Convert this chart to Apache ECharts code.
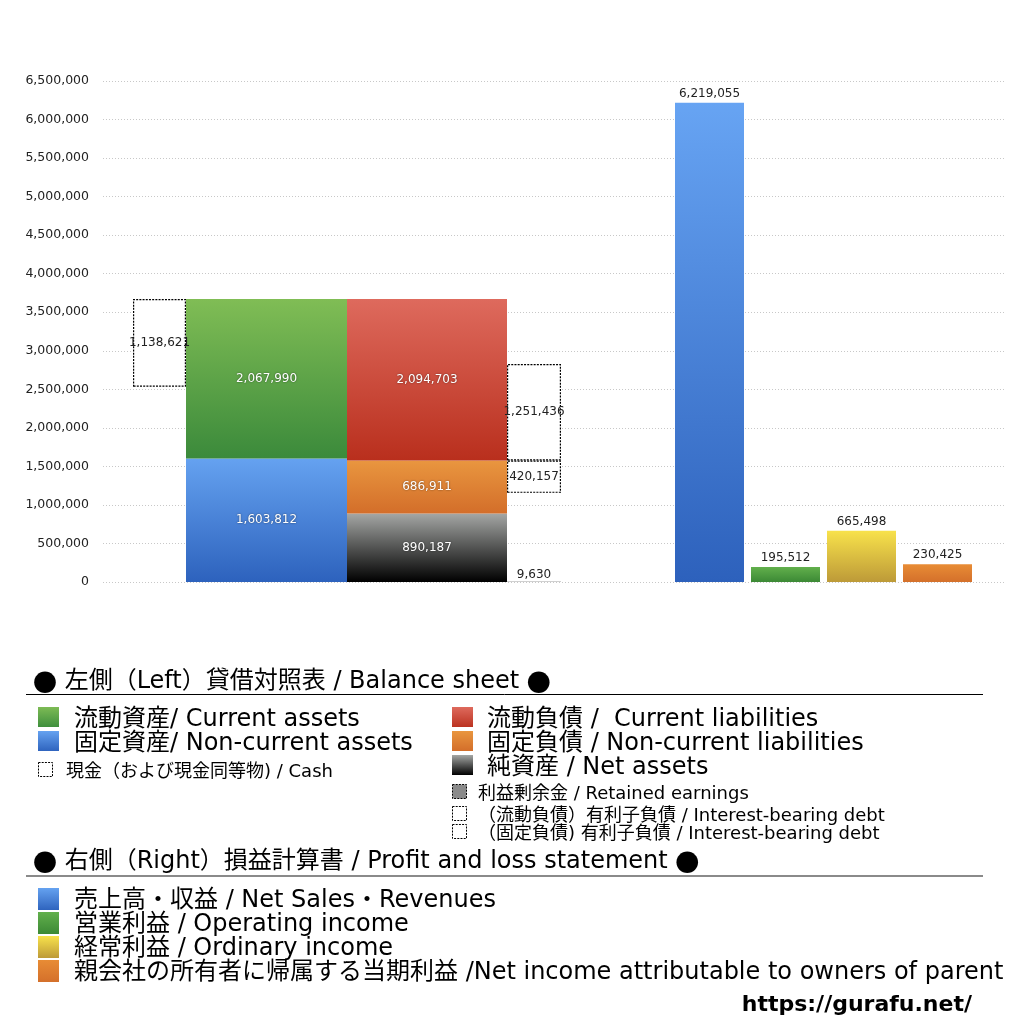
<!DOCTYPE html>
<html>
<head>
<meta charset="utf-8">
<script src="https://cdn.jsdelivr.net/npm/echarts@6/dist/echarts.min.js"></script>
<style>
html,body{margin:0;padding:0;background:#fff;}
#chart{width:1024px;height:1024px;}
</style>
</head>
<body>
<div id="chart"></div>
<script>
// ---- Data ----
const bsCategory = ['貸借対照表'];
const cash = [1138621];
const currentAssets = [2067990];
const nonCurrentAssets = [1603812];
const currentLiabilities = [2094703];
const nonCurrentLiabilities = [686911];
const netAssets = [890187];
const retainedEarnings = [9630];
const currentDebt = [1251436];
const nonCurrentDebt = [420157];

const plCategories = ['売上高・収益', '営業利益', '経常利益', '親会社の所有者に帰属する当期利益'];
const plValues = [6219055, 195512, 665498, 230425];

const yMin = 0, yMax = 6500000, yInterval = 500000;

// derived invisible offsets (from the values above)
const cashOffset = [currentAssets[0] + nonCurrentAssets[0] - cash[0]];
const debtOffset = [netAssets[0] + nonCurrentLiabilities[0] - nonCurrentDebt[0] - retainedEarnings[0]];

// ---- Styles ----
const grad = (a, b) => ({type:'linear', x:0, y:0, x2:0, y2:1, colorStops:[{offset:0,color:a},{offset:1,color:b}]});
const C = {
  green: grad('#80bd55', '#3b8a3b'),
  blue: grad('#65a2f0', '#2d62bd'),
  red: grad('#de6a5d', '#b92f1d'),
  orange: grad('#e9963f', '#d36e2a'),
  black: grad('#a5a7a5', '#000000'),
  gray: grad('#c8c8c8', '#b0b0b0'),
  plBlue: grad('#67a4f3', '#2d61bc'),
  plGreen: grad('#62b04c', '#3c8935'),
  plYellow: grad('#f8e24b', '#bd9a38'),
  plOrange: grad('#e88c35', '#d4702b')
};
const numFmt = v => Number(v).toLocaleString('en-US');
const labelFont = 'DejaVu Sans';
const whiteLabel = {show:true, position:'inside', color:'#fff', fontFamily:labelFont, fontSize:12,
  textShadowColor:'rgba(0,0,0,0.55)', textShadowBlur:2, formatter:p=>numFmt(p.value)};
const darkLabel = {show:true, position:'inside', color:'#222', fontFamily:labelFont, fontSize:12, formatter:p=>numFmt(p.value)};
const dashedBox = {color:'#fff', borderColor:'#000', borderWidth:1.2, borderType:[2,1.2]};

const gTop = 81, gBottom = 1024 - 582;

const option = {
  animation:false,
  backgroundColor:'#fff',
  grid:[
    {left:103, right:19, top:gTop, bottom:gBottom},
    {left:103, width:488, top:gTop, bottom:gBottom},
    {left:671.5, width:304, top:gTop, bottom:gBottom}
  ],
  xAxis:[
    {gridIndex:0, type:'category', data:[''], show:false},
    {gridIndex:1, type:'category', data:bsCategory, show:false},
    {gridIndex:2, type:'category', data:plCategories, show:false}
  ],
  yAxis:[
    {gridIndex:0, type:'value', min:yMin, max:yMax, interval:yInterval,
     axisLine:{show:false}, axisTick:{show:false},
     axisLabel:{color:'#222', fontFamily:labelFont, fontSize:12.5, margin:14, formatter:v=>numFmt(v)},
     splitLine:{show:true, lineStyle:{color:'#c8c8c8', type:[1,2], width:1}}},
    {gridIndex:1, type:'value', min:yMin, max:yMax, show:false, splitLine:{show:false}},
    {gridIndex:2, type:'value', min:yMin, max:yMax, show:false, splitLine:{show:false}}
  ],
  series:[
    // cash column
    {type:'bar', xAxisIndex:1, yAxisIndex:1, stack:'cash', barWidth:53, barGap:'0%', data:cashOffset,
     itemStyle:{color:'transparent'}, silent:true},
    {type:'bar', xAxisIndex:1, yAxisIndex:1, stack:'cash', barWidth:53, barGap:'0%', data:cash,
     itemStyle:dashedBox, label:darkLabel},
    // assets column
    {type:'bar', xAxisIndex:1, yAxisIndex:1, stack:'assets', barWidth:161, barGap:'0%', data:nonCurrentAssets,
     itemStyle:{color:C.blue}, label:whiteLabel},
    {type:'bar', xAxisIndex:1, yAxisIndex:1, stack:'assets', barWidth:161, barGap:'0%', data:currentAssets,
     itemStyle:{color:C.green}, label:whiteLabel},
    // liabilities + net assets column
    {type:'bar', xAxisIndex:1, yAxisIndex:1, stack:'liab', barWidth:160, barGap:'0%', data:netAssets,
     itemStyle:{color:C.black}, label:whiteLabel},
    {type:'bar', xAxisIndex:1, yAxisIndex:1, stack:'liab', barWidth:160, barGap:'0%', data:nonCurrentLiabilities,
     itemStyle:{color:C.orange}, label:whiteLabel},
    {type:'bar', xAxisIndex:1, yAxisIndex:1, stack:'liab', barWidth:160, barGap:'0%', data:currentLiabilities,
     itemStyle:{color:C.red}, label:whiteLabel},
    // retained earnings + interest-bearing debt column
    {type:'bar', xAxisIndex:1, yAxisIndex:1, stack:'debt', barWidth:54, barGap:'0%', data:retainedEarnings,
     itemStyle:{color:C.gray}, label:{show:true, position:'top', distance:0, color:'#222', fontFamily:labelFont, fontSize:12, formatter:p=>numFmt(p.value)}},
    {type:'bar', xAxisIndex:1, yAxisIndex:1, stack:'debt', barWidth:54, barGap:'0%', data:debtOffset,
     itemStyle:{color:'transparent'}, silent:true},
    {type:'bar', xAxisIndex:1, yAxisIndex:1, stack:'debt', barWidth:54, barGap:'0%', data:nonCurrentDebt,
     itemStyle:dashedBox, label:darkLabel},
    {type:'bar', xAxisIndex:1, yAxisIndex:1, stack:'debt', barWidth:54, barGap:'0%', data:currentDebt,
     itemStyle:dashedBox, label:darkLabel},
    // P&L
    {type:'bar', xAxisIndex:2, yAxisIndex:2, barWidth:69,
     data:plValues.map((v,i)=>({value:v, itemStyle:{color:[C.plBlue,C.plGreen,C.plYellow,C.plOrange][i]}})),
     label:{show:true, position:'top', distance:3, color:'#222', fontFamily:labelFont, fontSize:12, formatter:p=>numFmt(p.value)}}
  ],
  graphic:[]
};

// ---- Legend block (text + swatches) ----
const mix = '"DejaVu Sans", "Noto Sans CJK JP", sans-serif';
const cjk = '"Noto Sans CJK JP", sans-serif';
const G = option.graphic;
function txt(x, y, s, size){
  G.push({type:'text', x:x, y:y + 2, style:{text:s, font:size+'px '+mix, fill:'#000',
    rich:{b:{font:size+'px '+cjk, fill:'#000'}},
    textVerticalAlign:'middle', verticalAlign:'middle', textAlign:'left', align:'left'}});
}
function sw(x, y, w, h, fill){
  G.push({type:'rect', shape:{x:x, y:y, width:w, height:h}, style:{fill:fill}});
}
function dsw(x, y, w, h, fill){
  G.push({type:'rect', shape:{x:x, y:y, width:w, height:h}, style:{fill:fill||'#fff', stroke:'#000', lineWidth:1, lineDash:[2,1.2]}});
}
const swGrad = (a,b) => new echarts.graphic.LinearGradient(0,0,0,1,[{offset:0,color:a},{offset:1,color:b}]);

txt(33, 680, '{b|●} 左側（Left）貸借対照表 / Balance sheet {b|●}', 24);
G.push({type:'line', shape:{x1:26, y1:694.5, x2:983, y2:694.5}, style:{stroke:'#000', lineWidth:1}});

sw(38, 707, 21, 20, swGrad('#7dbb55','#3f8f3d'));
txt(74, 718, '流動資産/ Current assets', 24);
sw(38, 731, 21, 20, swGrad('#65a2f0','#2f64be'));
txt(74, 742, '固定資産/ Non-current assets', 24);
dsw(38.5, 762.5, 14, 14);
txt(66, 770, '現金（および現金同等物) / Cash', 18);

sw(452, 707, 21, 20, swGrad('#de6a5d','#bb3220'));
txt(487, 718, '流動負債 /  Current liabilities', 24);
sw(452, 731, 21, 20, swGrad('#e9963f','#d36e2a'));
txt(487, 742, '固定負債 / Non-current liabilities', 24);
sw(452, 755, 21, 20, swGrad('#a5a7a5','#000000'));
txt(487, 766, '純資産 / Net assets', 24);
dsw(452.5, 784.5, 14, 14, '#8a8a8a');
txt(478, 792, '利益剰余金 / Retained earnings', 18);
dsw(452.5, 806.5, 14, 14);
txt(478, 814, '（流動負債）有利子負債 / Interest-bearing debt', 18);
dsw(452.5, 824.5, 14, 14);
txt(478, 832, '（固定負債) 有利子負債 / Interest-bearing debt', 18);

txt(33, 860, '{b|●} 右側（Right）損益計算書 / Profit and loss statement {b|●}', 24);
G.push({type:'line', shape:{x1:26, y1:876, x2:983, y2:876}, style:{stroke:'#8a8a8a', lineWidth:2}});

sw(38, 888, 21, 22, swGrad('#65a2f0','#2f64be'));
txt(74, 899, '売上高・収益 / Net Sales・Revenues', 24);
sw(38, 912, 21, 22, swGrad('#62b04c','#3c8935'));
txt(74, 923, '営業利益 / Operating income', 24);
sw(38, 936, 21, 22, swGrad('#f8e24b','#bd9a38'));
txt(74, 947, '経常利益 / Ordinary income', 24);
sw(38, 960, 21, 22, swGrad('#e88c35','#d4702b'));
txt(74, 971, '親会社の所有者に帰属する当期利益 /Net income attributable to owners of parent', 24);

G.push({type:'text', x:972, y:1005, style:{text:'https://gurafu.net/', font:'bold 22px "DejaVu Sans", sans-serif', fill:'#000',
  textAlign:'right', align:'right', textVerticalAlign:'middle', verticalAlign:'middle'}});

const chart = echarts.init(document.getElementById('chart'), null, {renderer:'canvas'});
chart.setOption(option);
</script>
</body>
</html>
